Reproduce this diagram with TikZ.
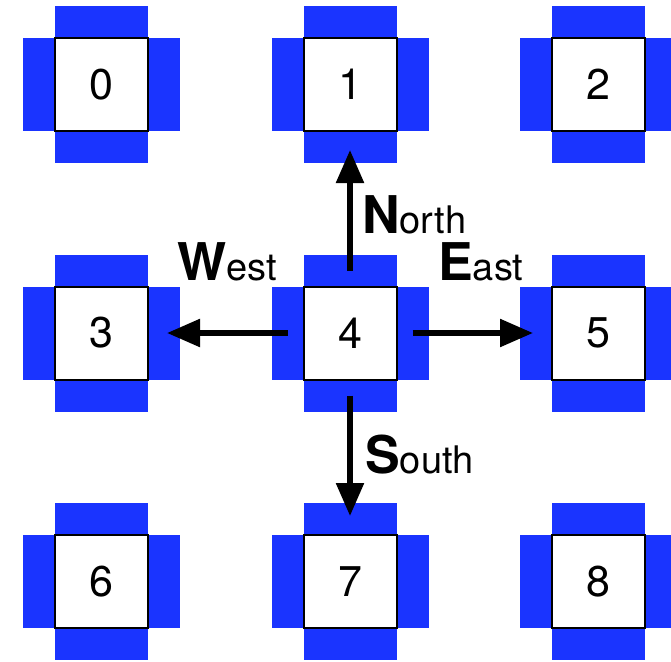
\documentclass[tikz,border=0pt]{standalone}
\usepackage{fontspec}
\setmainfont{TeX Gyre Heros}
\usetikzlibrary{arrows.meta,backgrounds}

\definecolor{tabblue}{RGB}{26,52,255}

\tikzset{
    cell/.style={draw=black, fill=white, line width=2pt, minimum size=93pt,
        inner sep=0pt, outer sep=0pt, font=\fontsize{43}{50}\selectfont},
    tab/.style={fill=tabblue},
    move/.style={line width=5.5pt, -{Triangle[length=33pt,width=27pt]},
        shorten <=16pt, shorten >=19pt},
    dirlabel/.style={anchor=base west, inner sep=0pt, font=\fontsize{38}{46}\selectfont}
}
\newcommand{\dircap}[1]{{\fontsize{52}{60}\selectfont\bfseries #1}}

\begin{document}
\begin{tikzpicture}[x=1pt, y=-1pt]
    \useasboundingbox (0,0) rectangle (671,661);

    % the nine cells, each with a tab on every side
    \foreach \n in {0,...,8} {
        \pgfmathtruncatemacro\col{mod(\n,3)}
        \pgfmathtruncatemacro\row{div(\n,3)}
        \node[cell] (c\n) at (101.5+248.5*\col, 84.5+248.5*\row) {\n};
        \begin{scope}[on background layer]
            \fill[tab] (c\n.north west) rectangle ([yshift=32pt]c\n.north east);
            \fill[tab] (c\n.south west) rectangle ([yshift=-32pt]c\n.south east);
            \fill[tab] (c\n.north west) rectangle ([xshift=-32pt]c\n.south west);
            \fill[tab] (c\n.north east) rectangle ([xshift=32pt]c\n.south east);
        \end{scope}
    }

    \draw[move] (c4.north) -- (c1.south);
    \draw[move] (c4.west) -- (c3.east);
    \draw[move] (c4.east) -- (c5.west);
    \draw[move] (c4.south) -- (c7.north);

    \node[dirlabel] (north) at (362,233) {\dircap{N}orth};
    \node[dirlabel] (west) at (177,280) {\dircap{W}est};
    \node[dirlabel] (east) at (438,280) {\dircap{E}ast};
    \node[dirlabel] (south) at (365,473) {\dircap{S}outh};
\end{tikzpicture}
\end{document}
